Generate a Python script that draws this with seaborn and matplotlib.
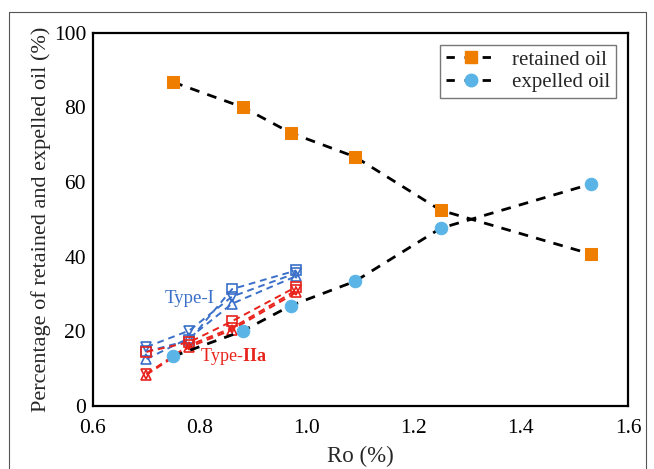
import matplotlib
matplotlib.use("Agg")
import matplotlib.pyplot as plt
import pandas as pd
import seaborn as sns
from matplotlib.lines import Line2D

# main series
ro_main = [0.75, 0.88, 0.97, 1.09, 1.25, 1.53]
retained_oil = [86.7, 80.0, 73.1, 66.7, 52.4, 40.7]
expelled_oil = [13.3, 20.1, 26.9, 33.4, 47.6, 59.4]

# small Type-I / Type-IIa series
ro_small = [0.70, 0.78, 0.86, 0.98]
type1_square = [14.6, 17.6, 31.3, 36.3]
type1_tri_down = [15.8, 20.2, 29.3, 35.6]
type1_tri_up = [12.6, 18.2, 27.4, 34.8]
type2a_square = [14.5, 17.1, 22.7, 31.9]
type2a_tri_up = [8.4, 15.8, 20.4, 30.4]
type2a_tri_down = [8.6, 16.3, 20.9, 31.0]

x_ticks = [0.6, 0.8, 1.0, 1.2, 1.4, 1.6]
y_ticks = [0, 20, 40, 60, 80, 100]

ORANGE = "#EF7D00"
LIGHT_BLUE = "#5AB4E6"
BLUE = "#3A70C8"
RED = "#E8231C"

sns.set_style("white")
plt.rcParams["font.family"] = ["Liberation Serif", "DejaVu Serif"]
plt.rcParams["mathtext.fontset"] = "custom"
plt.rcParams["mathtext.rm"] = "Liberation Serif"
plt.rcParams["mathtext.bf"] = "Liberation Serif:bold"

fig = plt.figure(figsize=(6.54, 4.69), dpi=100)
ax = fig.add_axes([0.1422, 0.1343, 0.8180, 0.7964])

small = [
    (type1_square, BLUE, "s"),
    (type1_tri_down, BLUE, "v"),
    (type1_tri_up, BLUE, "^"),
    (type2a_square, RED, "s"),
    (type2a_tri_up, RED, "^"),
    (type2a_tri_down, RED, "v"),
]
for vals, col, mk in small:
    df = pd.DataFrame({"ro": ro_small, "pct": vals})
    sns.lineplot(
        df, x="ro", y="pct", ax=ax, color=col, linestyle=(0, (3.5, 2.5)),
        linewidth=1.4, marker=mk, markersize=6.5, markerfacecolor="none",
        markeredgecolor=col, markeredgewidth=1.2,
    )

main_df = pd.DataFrame(
    {"ro": ro_main, "retained": retained_oil, "expelled": expelled_oil}
)
sns.lineplot(
    main_df, x="ro", y="retained", ax=ax, color="black",
    linestyle=(0, (3.5, 3)), linewidth=2.0, marker="s", markersize=8,
    markerfacecolor=ORANGE, markeredgecolor=ORANGE, zorder=4,
)
sns.lineplot(
    main_df, x="ro", y="expelled", ax=ax, color="black",
    linestyle=(0, (3.5, 3)), linewidth=2.0, marker="o", markersize=9,
    markerfacecolor=LIGHT_BLUE, markeredgecolor=LIGHT_BLUE, zorder=4,
)

ax.text(0.733, 28.8, "Type-I", color=BLUE, fontsize=13.5, va="center")
ax.text(0.80, 13.3, r"Type-$\mathbf{IIa}$", color=RED, fontsize=13,
        va="center")

ax.set_xlim(0.6, 1.6)
ax.set_ylim(0, 100)
ax.set_xticks(x_ticks)
ax.set_yticks(y_ticks)
ax.set_xticklabels([f"{v:.1f}" for v in x_ticks])
ax.tick_params(direction="in", length=5, width=1.5, labelsize=15.5,
               colors="black")
ax.tick_params(axis="x", pad=9)
ax.tick_params(axis="y", pad=5)
for sp in ax.spines.values():
    sp.set_linewidth(1.6)
    sp.set_color("black")
ax.set_xlabel("Ro (%)", fontsize=16.5, labelpad=6)
ax.set_ylabel("Percentage of retained and expelled oil (%)", fontsize=16,
              labelpad=2)

handles = [
    Line2D([], [], color="black", linestyle=(0, (3, 3.5)), linewidth=2.0,
           marker="s", markersize=8, markerfacecolor=ORANGE,
           markeredgecolor=ORANGE),
    Line2D([], [], color="black", linestyle=(0, (3, 3.5)), linewidth=2.0,
           marker="o", markersize=9, markerfacecolor=LIGHT_BLUE,
           markeredgecolor=LIGHT_BLUE),
]
leg = ax.legend(handles, ["retained oil", "expelled oil"], loc="upper right",
                bbox_to_anchor=(0.977, 0.967), borderaxespad=0, fontsize=15,
                frameon=True, fancybox=False, edgecolor="#777777",
                framealpha=1, handlelength=2.4, borderpad=0.25,
                labelspacing=0.15, handletextpad=0.8)
leg.get_frame().set_linewidth(1.0)

# thin outer frame of the original figure
for xs, ys in [((9 / 654, 646 / 654), (1 - 12 / 469, 1 - 12 / 469)),
               ((9 / 654, 9 / 654), (1 - 12 / 469, -0.01)),
               ((646 / 654, 646 / 654), (1 - 12 / 469, -0.01))]:
    fig.add_artist(Line2D(xs, ys, transform=fig.transFigure, color="#555555",
                          linewidth=0.8))

fig.savefig("out.png", dpi=100)
